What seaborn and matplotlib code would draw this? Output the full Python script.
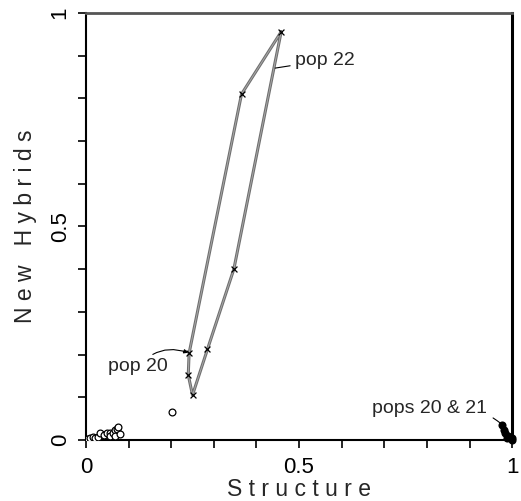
import numpy as np
import pandas as pd
import matplotlib
matplotlib.use('Agg')
import matplotlib.pyplot as plt
import seaborn as sns
from matplotlib.ticker import MultipleLocator, FixedLocator

# data
# pop 22 outline (closed polygon through the x markers)
poly_x = [0.458, 0.365, 0.242, 0.240, 0.250, 0.285, 0.347, 0.458]
poly_y = [0.956, 0.810, 0.203, 0.152, 0.105, 0.212, 0.400, 0.956]

# open circles near the origin
open_x = [0.002, 0.009, 0.016, 0.021, 0.029, 0.033, 0.042, 0.049, 0.056, 0.056,
          0.064, 0.068, 0.068, 0.072, 0.076, 0.080, 0.203]
open_y = [0.002, 0.004, 0.006, 0.004, 0.006, 0.016, 0.012, 0.016, 0.017, 0.009,
          0.016, 0.022, 0.008, 0.025, 0.031, 0.013, 0.066]

# filled dots near (1, 0)
fill_x = [0.977, 0.980, 0.984, 0.988, 0.991, 0.999, 1.000]
fill_y = [0.034, 0.023, 0.016, 0.004, 0.008, 0.004, 0.000]

sns.set_theme(style='ticks')
plt.rcParams['font.family'] = ['Liberation Sans', 'DejaVu Sans']

fig = plt.figure(figsize=(5.21, 5.01), dpi=100)
ax = fig.add_axes([0.165, 0.122, 0.818, 0.852])

poly = pd.DataFrame({'x': poly_x, 'y': poly_y})
sns.lineplot(data=poly, x='x', y='y', sort=False, estimator=None,
             color='#6e6e6e', linewidth=2.2, ax=ax, zorder=2)
sns.lineplot(data=poly, x='x', y='y', sort=False, estimator=None,
             color='#a8a8a8', linewidth=0.7, ax=ax, zorder=2)
sns.scatterplot(data=poly.iloc[:-1], x='x', y='y', marker='x', color='black',
                s=18, linewidth=0.9, ax=ax, zorder=3)

sns.scatterplot(x=open_x, y=open_y, marker='o', facecolor='white',
                edgecolor='black', s=24, linewidth=0.9, ax=ax, zorder=4)
sns.scatterplot(x=fill_x, y=fill_y, marker='o', color='black',
                s=34, linewidth=0, ax=ax, zorder=4, clip_on=False)

ax.set_xlim(0, 1)
ax.set_ylim(0, 1)

ax.annotate('pop 22', xy=(0.444, 0.871), xytext=(0.49, 0.889),
            fontsize=14, va='center', ha='left',
            arrowprops=dict(arrowstyle='-', color='black', lw=0.8, shrinkA=1, shrinkB=0))
ax.annotate('pop 20', xy=(0.240, 0.204), xytext=(0.193, 0.171),
            fontsize=14, va='center', ha='right',
            arrowprops=dict(arrowstyle='-|>', color='black', lw=0.8, mutation_scale=6,
                            connectionstyle='arc3,rad=-0.35', shrinkA=1, shrinkB=0))
ax.annotate('pops 20 & 21', xy=(0.974, 0.038), xytext=(0.942, 0.073),
            fontsize=14, va='center', ha='right',
            arrowprops=dict(arrowstyle='-', color='black', lw=0.8,
                            connectionstyle='arc3,rad=-0.25', shrinkA=2, shrinkB=0))

ax.xaxis.set_major_locator(FixedLocator([0, 0.5, 1]))
ax.yaxis.set_major_locator(FixedLocator([0, 0.5, 1]))
ax.xaxis.set_minor_locator(MultipleLocator(0.1))
ax.yaxis.set_minor_locator(MultipleLocator(0.1))
ax.set_xticklabels(['0', '0.5', '1'])
ax.set_yticklabels(['0', '0.5', '1'], rotation=90, va='center')
ax.tick_params(which='both', direction='out', length=6, width=1.2, color='black',
               labelsize=16, labelcolor='black')
ax.tick_params(axis='x', which='major', pad=6)
ax.tick_params(axis='y', which='major', pad=5)

ax.set_xlabel('S t r u c t u r e', fontsize=16.5, labelpad=0)
ax.set_ylabel('N e w   H y b r i d s', fontsize=16.5, labelpad=9)

for side in ['left', 'bottom']:
    ax.spines[side].set_color('black')
    ax.spines[side].set_linewidth(1.5)
ax.spines['right'].set_color('black')
ax.spines['right'].set_linewidth(2.2)
ax.spines['top'].set_color('#555555')
ax.spines['top'].set_linewidth(2.0)
ax.grid(False)

fig.savefig('out.png', dpi=100)
